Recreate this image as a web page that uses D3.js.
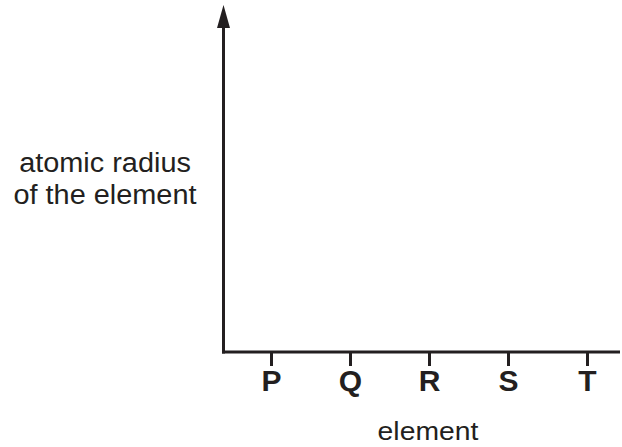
<!DOCTYPE html>
<html>
<head>
<meta charset="utf-8">
<script src="https://cdn.jsdelivr.net/npm/d3@7"></script>
<style>
  html, body { margin: 0; padding: 0; background: #fff; }
  svg { display: block; }
  text { font-family: "Liberation Sans", Arial, sans-serif; fill: #231f20; }
</style>
</head>
<body>
<div id="chart"></div>
<script>
// 元素类别（x 轴刻度）
var elements = ['P', 'Q', 'R', 'S', 'T'];
var yLabelLines = ['atomic radius', 'of the element'];
var xLabel = 'element';

var W = 622, H = 447;
var ink = '#231f20';
var ox = 223.5, oy = 352;   // 坐标原点

var svg = d3.select('#chart').append('svg')
  .attr('width', W).attr('height', H);

var x = d3.scalePoint().domain(elements).range([271, 587]);
var y = d3.scaleLinear().domain([0, 1]).range([oy, 26]);

// x 轴
svg.append('line')
  .attr('x1', ox - 1.5).attr('x2', 620)
  .attr('y1', oy).attr('y2', oy)
  .attr('stroke', ink).attr('stroke-width', 3);

var xAxis = svg.append('g')
  .attr('transform', 'translate(0,' + oy + ')')
  .call(d3.axisBottom(x).tickSizeOuter(0).tickSizeInner(14).tickPadding(0));
xAxis.select('.domain').remove();
xAxis.selectAll('.tick line').attr('stroke', ink).attr('stroke-width', 3);
xAxis.selectAll('.tick text')
  .attr('y', 39).attr('dy', null)
  .attr('fill', ink)
  .style('font-family', '"Liberation Sans", Arial, sans-serif')
  .style('font-weight', 'bold')
  .style('font-size', '30px');

// y 轴（带箭头）
svg.append('line')
  .attr('x1', ox).attr('x2', ox)
  .attr('y1', oy + 1.5).attr('y2', y(1))
  .attr('stroke', ink).attr('stroke-width', 3);
svg.append('path')
  .attr('d', 'M' + ox + ',5 L' + (ox + 6.5) + ',' + (y(1) + 2) + ' L' + (ox - 6.5) + ',' + (y(1) + 2) + 'Z')
  .attr('fill', ink);

// 轴标题
var yl = svg.append('g');
yLabelLines.forEach(function (s, i) {
  yl.append('text')
    .attr('transform', 'translate(105,' + (172 + i * 31.5) + ') scale(1.07,1)')
    .attr('text-anchor', 'middle')
    .style('font-size', '27px')
    .text(s);
});

svg.append('text')
  .attr('transform', 'translate(428,440) scale(1.09,1)')
  .attr('text-anchor', 'middle')
  .style('font-size', '26px')
  .text(xLabel);
</script>
</body>
</html>
